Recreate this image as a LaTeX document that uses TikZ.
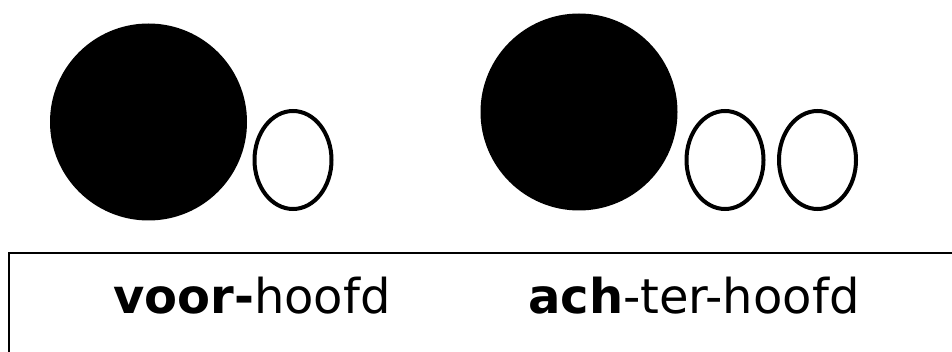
\documentclass[tikz,border=0pt]{standalone}
\usepackage{fontspec}
\setmainfont{DejaVu Sans}
\usetikzlibrary{shapes.geometric}
\begin{document}
\begin{tikzpicture}[x=1pt,y=-1pt,
  bigdot/.style={circle,fill=black,inner sep=0pt,minimum size=197pt},
  egg/.style={ellipse,draw=black,line width=4pt,inner sep=0pt,minimum width=77pt,minimum height=98pt},
  word/.style={anchor=base west,inner sep=0pt,font=\fontsize{48pt}{56pt}\selectfont}]
\useasboundingbox (0,0) rectangle (952,352);
\clip (0,0) rectangle (952,352);
\fill[white] (0,0) rectangle (952,352);
\node[bigdot] (c1) at (148.5,122) {};
\node[egg] (e1) at (293,160) {};
\node[bigdot] (c2) at (579,112) {};
\node[egg] (e2) at (725,160) {};
\node[egg] (e3) at (817.5,160) {};
\draw[line width=2pt] (9,400) -- (9,253) -- (1000,253);
\node[word] (t1) at (113,313) {\textbf{voor-}hoofd};
\node[word] (t2) at (528,313) {\textbf{ach}-ter-hoofd};
\end{tikzpicture}
\end{document}
